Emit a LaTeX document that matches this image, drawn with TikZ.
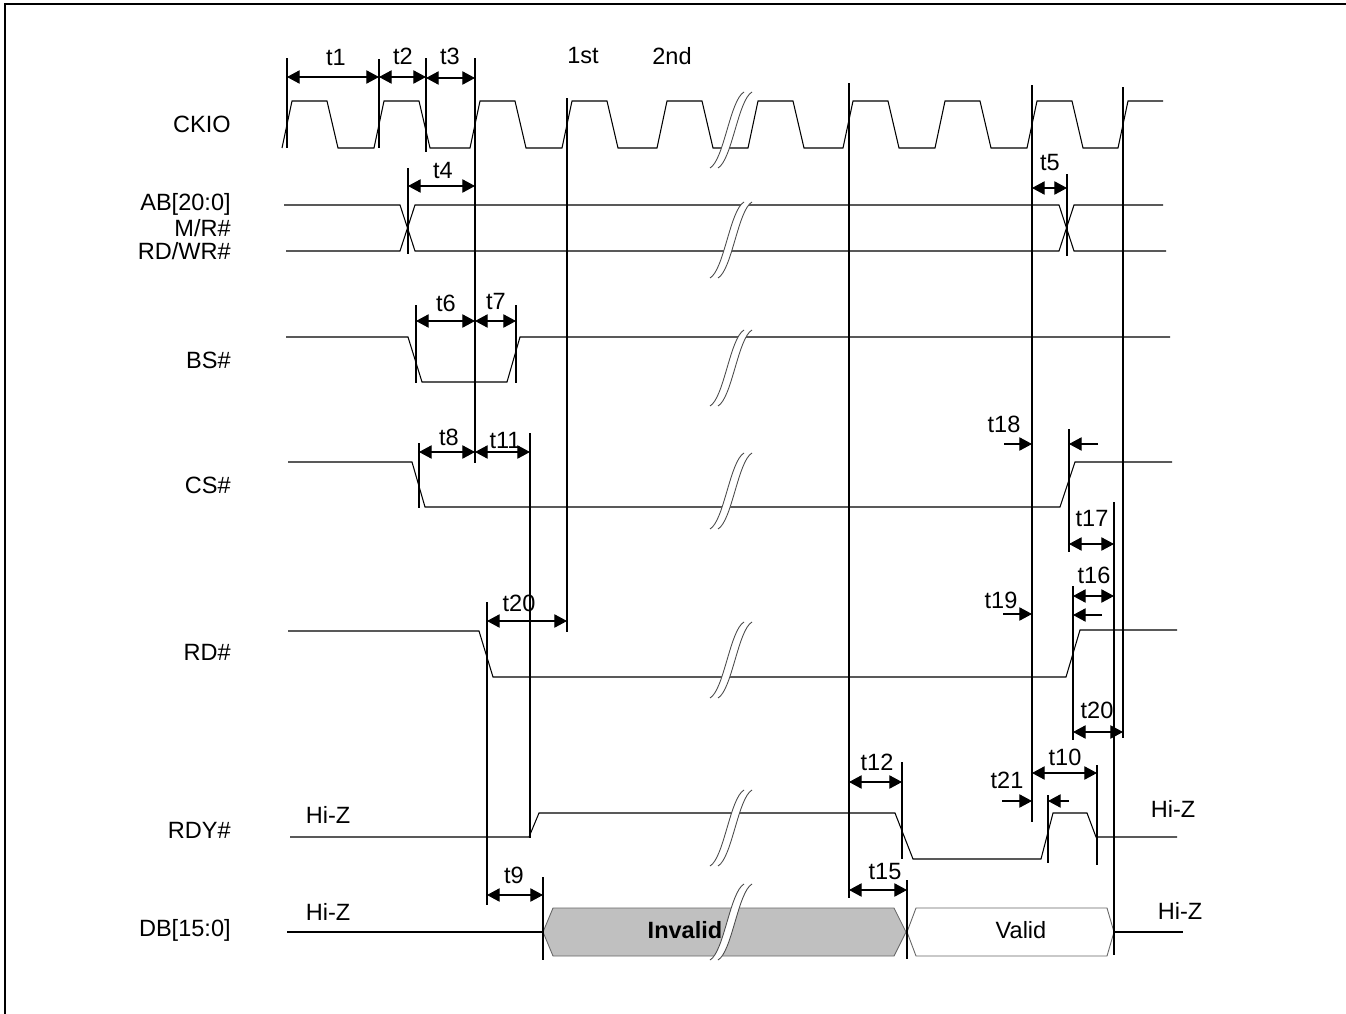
\documentclass[tikz,border=0pt]{standalone}
\usepackage{fontspec}
\setmainfont{Liberation Sans}
\usetikzlibrary{arrows.meta}
\definecolor{invalidgray}{HTML}{C0C0C0}
\tikzset{
  sig/.style   = {line width=0.6pt},
  guide/.style = {line width=0.6pt},
  dim/.style   = {line width=0.6pt, {Triangle[length=7.2pt,width=7.6pt]}-{Triangle[length=7.2pt,width=7.6pt]}},
  tip/.style   = {line width=0.6pt, -{Triangle[length=7.2pt,width=7.6pt]}},
  lbl/.style   = {font=\fontsize{13.4}{15}\selectfont, inner sep=0pt},
  sname/.style = {lbl, anchor=east},
  busbox/.style = {line width=0.5pt, draw=black!60},
}
% break mark centred at (#1,#2)
\newcommand{\brkmark}[2]{%
  \fill[white] (#1-17,#2+38) .. controls (#1-3,#2+30) and (#1+3,#2-30) .. (#1+17,#2-38)
    -- (#1+25,#2-38) .. controls (#1+11,#2-30) and (#1+5,#2+30) .. (#1-9,#2+38) -- cycle;
  \draw[line width=0.5pt, black!70] (#1-17,#2+38) .. controls (#1-3,#2+30) and (#1+3,#2-30) .. (#1+17,#2-38);
  \draw[line width=0.5pt, black!70] (#1-9,#2+38) .. controls (#1+5,#2+30) and (#1+11,#2-30) .. (#1+25,#2-38);
}

\begin{document}
\begin{tikzpicture}[x=0.02cm, y=-0.02cm]
  \useasboundingbox (0,0) rectangle (1346,1014);
  \draw[line width=1.1pt] (5,1014) -- (5,4) -- (1346,4);

  % signal names
  \node[sname] (ckio) at (231,124) {CKIO};
  \node[sname] (ab)   at (231,204) {AB[20:0]};
  \node[sname] (mr)   at (231,228) {M/R\#};
  \node[sname] (rdwr) at (231,251) {RD/WR\#};
  \node[sname] (bs)   at (231,360) {BS\#};
  \node[sname] (cs)   at (231,485) {CS\#};
  \node[sname] (rd)   at (231,652) {RD\#};
  \node[sname] (rdy)  at (231,830) {RDY\#};
  \node[sname] (db)   at (231,930) {DB[15:0]};

  % waveforms
  \draw[sig] (282,148)
    \foreach \xa/\xb in {287/379,379/475,475/567,567/662,662/753,753/848,848/940,940/1032,1032/1123}
      { -- (\xa+5,101) -- (\xa+40,101) -- (\xa+51,148) -- (\xb-5,148) }
    -- (1128,101) -- (1163,101);
  \draw[sig] (284,205) -- (400,205) -- (415,251) -- (1059,251) -- (1074,205) -- (1163,205);
  \draw[sig] (286,251) -- (400,251) -- (415,205) -- (1059,205) -- (1074,251) -- (1166,251);
  \draw[sig] (286,337) -- (408,337) -- (422,382) -- (507,382) -- (520,337) -- (1170,337);
  \draw[sig] (288,462) -- (412,462) -- (425,507) -- (1060,507) -- (1075,462) -- (1172,462);
  \draw[sig] (288,631) -- (479,631) -- (493,677) -- (1066,677) -- (1080,630) -- (1177,630);
  \draw[sig] (290,837) -- (529,837) -- (539,813) -- (895,813) -- (913,859) -- (1041,859)
    -- (1053,813) -- (1087,813) -- (1096,837) -- (1177,837);
  \draw[sig] (287,932) -- (543,932);
  \draw[busbox, fill=invalidgray] (543,932) -- (553,908) -- (894,908) -- (906,932) -- (894,956) -- (553,956) -- cycle;
  \draw[busbox] (907,932) -- (916,908) -- (1107,908) -- (1114,932) -- (1107,956) -- (916,956) -- cycle;
  \draw[sig] (1114,932) -- (1183,932);

  % breaks
  \foreach \yb in {130,240,368,491,660,828,922} {
    \brkmark{727}{\yb}
  }

  % timing guides
  \draw[guide] (287,58) -- (287,148);
  \draw[guide] (379,59) -- (379,148);
  \draw[guide] (426,58) -- (426,152);
  \draw[guide] (475,58) -- (475,463);
  \draw[guide] (567,98) -- (567,632);
  \draw[guide] (849,83) -- (849,898);
  \draw[guide] (1032,85) -- (1032,822);
  \draw[guide] (1123,87) -- (1123,738);
  \draw[guide] (408,168) -- (408,254);
  \draw[guide] (1067,174) -- (1067,256);
  \draw[guide] (416,305) -- (416,383);
  \draw[guide] (516,305) -- (516,383);
  \draw[guide] (419,443) -- (419,508);
  \draw[guide] (530,433) -- (530,838);
  \draw[guide] (487,602) -- (487,905);
  \draw[guide] (543,877) -- (543,960);
  \draw[guide] (1069,429) -- (1069,552);
  \draw[guide] (1114,502) -- (1114,955);
  \draw[guide] (1073,586) -- (1073,740);
  \draw[guide] (902,762) -- (902,859);
  \draw[guide] (907,880) -- (907,959);
  \draw[guide] (1048,795) -- (1048,863);
  \draw[guide] (1097,765) -- (1097,865);

  % dimension arrows
  \draw[dim] (287,77) -- (379,77);
  \draw[dim] (379,77) -- (426,77);
  \draw[dim] (426,78) -- (475,78);
  \draw[dim] (408,186) -- (475,186);
  \draw[dim] (1032,188) -- (1067,188);
  \draw[dim] (416,321) -- (475,321);
  \draw[dim] (475,321) -- (516,321);
  \draw[dim] (419,452) -- (475,452);
  \draw[dim] (475,452) -- (530,452);
  \draw[dim] (487,621) -- (567,621);
  \draw[dim] (1069,544) -- (1114,544);
  \draw[dim] (1073,596) -- (1114,596);
  \draw[dim] (1073,732) -- (1123,732);
  \draw[dim] (849,782) -- (902,782);
  \draw[dim] (849,890) -- (907,890);
  \draw[dim] (1032,773) -- (1097,773);
  \draw[dim] (487,895) -- (543,895);
  \draw[tip] (1004,444) -- (1032,444);
  \draw[tip] (1098,444) -- (1069,444);
  \draw[tip] (1003,614) -- (1032,614);
  \draw[tip] (1102,615) -- (1073,615);
  \draw[tip] (1002,801) -- (1032,801);
  \draw[tip] (1069,801) -- (1048,801);

  % timing labels
  \node[lbl] (lt1)  at (336,57)  {t1};
  \node[lbl] (lt2)  at (403,56)  {t2};
  \node[lbl] (lt3)  at (450,56)  {t3};
  \node[lbl] (lfst) at (583,56)  {1st};
  \node[lbl] (lsnd) at (672,56)  {2nd};
  \node[lbl] (lt4)  at (443,170) {t4};
  \node[lbl] (lt5)  at (1050,163) {t5};
  \node[lbl] (lt6)  at (446,303) {t6};
  \node[lbl] (lt7)  at (496,301) {t7};
  \node[lbl] (lt8)  at (449,437) {t8};
  \node[lbl] (lt11) at (505,440) {t11};
  \node[lbl] (lt20) at (519,603) {t20};
  \node[lbl] (lt18) at (1004,424) {t18};
  \node[lbl] (lt19) at (1001,600) {t19};
  \node[lbl] (lt17) at (1092,518) {t17};
  \node[lbl] (lt16) at (1094,575) {t16};
  \node[lbl] (lt20b) at (1097,710) {t20};
  \node[lbl] (lt12) at (877,762) {t12};
  \node[lbl] (lt15) at (885,872) {t15};
  \node[lbl] (lt21) at (1007,780) {t21};
  \node[lbl] (lt10) at (1065,757) {t10};
  \node[lbl] (lt9)  at (514,875) {t9};
  \node[lbl] (hz1)  at (328,815) {Hi-Z};
  \node[lbl] (hz2)  at (328,912) {Hi-Z};
  \node[lbl] (hz3)  at (1173,809) {Hi-Z};
  \node[lbl] (hz4)  at (1180,911) {Hi-Z};
  \node[lbl, font=\fontsize{13.4}{15}\selectfont\bfseries] (inv) at (685,930) {Invalid};
  \node[lbl] (val)  at (1021,930) {Valid};
\end{tikzpicture}
\end{document}
